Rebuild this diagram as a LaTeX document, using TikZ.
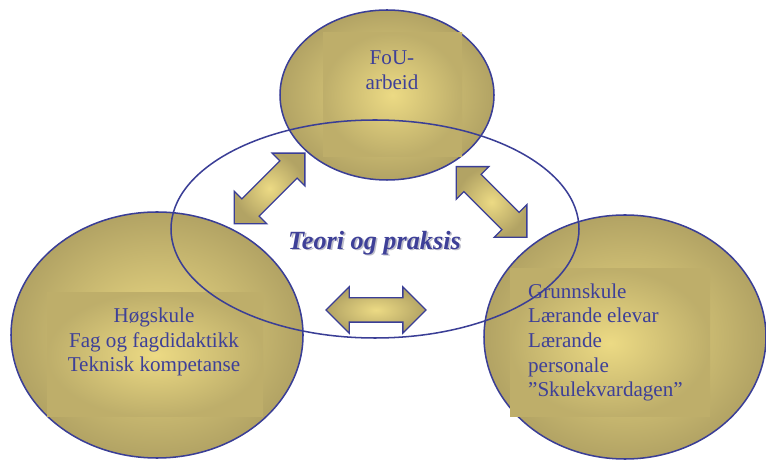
\documentclass[tikz,border=0pt]{standalone}
\usepackage{fontspec}
\setmainfont{Liberation Serif}
\usetikzlibrary{shapes.geometric,shapes.arrows}

\definecolor{lineblue}{RGB}{58,62,150}
\definecolor{textblue}{RGB}{62,64,152}
\definecolor{goldedge}{RGB}{178,163,100}
\definecolor{goldlight}{RGB}{236,218,132}
\definecolor{shadowgray}{RGB}{190,190,202}

\begin{document}
\begin{tikzpicture}[
    blob/.style={draw=lineblue, line width=1.3pt, ellipse, inner sep=0pt, inner color=goldlight, outer color=goldedge},
    textbox/.style={rectangle, inner sep=0pt, inner color=goldlight, outer color=goldedge!80!goldlight},
    lbl/.style={text=textblue, font=\fontsize{18}{21}\selectfont, align=center},
    dblarrow/.style={double arrow, draw=lineblue, line width=1.1pt, minimum height=3cm, minimum width=1.35cm,
        inner sep=0.345cm, double arrow head extend=0.33cm, inner color=goldlight, outer color=goldedge},
    title/.style={font=\fontsize{22.4}{26}\selectfont\bfseries\itshape}
]
\useasboundingbox (0,0) rectangle (22.98,13.8);

% --- three gold circles ---
\node[blob, minimum width=6.42cm, minimum height=5.1cm] (fou) at (11.61,10.95) {};
\node[blob, minimum width=8.76cm, minimum height=7.38cm] (hogskule) at (4.71,3.75) {};
\node[blob, minimum width=8.46cm, minimum height=7.32cm] (grunnskule) at (18.75,3.69) {};

% shaded text boxes inside
\node[textbox, minimum width=4.17cm, minimum height=3.72cm] (foubox) at (11.775,10.95) {};
\node[textbox, minimum width=6.48cm, minimum height=3.72cm] (hogbox) at (4.65,3.15) {};
\node[textbox, minimum width=6.0cm, minimum height=4.44cm] (grunnbox) at (18.3,3.51) {};

\node[lbl] (foutxt) at (11.76,11.7) {FoU-\\arbeid};
\node[lbl] (hogtxt) at (4.62,3.54) {Høgskule\\Fag og fagdidaktikk\\Teknisk kompetanse};
\node[lbl, align=left, anchor=west] (grunntxt) at (15.72,3.525) {Grunnskule\\Lærande elevar\\Lærande\\personale\\”Skulekvardagen”};

% --- big ellipse ---
\node[draw=lineblue, line width=1.3pt, ellipse, inner sep=0pt, minimum width=12.24cm, minimum height=6.54cm] (teori) at (11.25,6.93) {};

% --- block arrows ---
\node[dblarrow, rotate=45] (pilvenstre) at (8.085,8.145) {};
\node[dblarrow, rotate=-45] (pilhogre) at (14.745,7.74) {};
\node[dblarrow] (pilnede) at (11.28,4.5) {};

\node[title, text=shadowgray] (teorishadow) at (11.285,6.46) {Teori og praksis};
\node[title, text=textblue] (teoritxt) at (11.235,6.51) {Teori og praksis};

\end{tikzpicture}
\end{document}
